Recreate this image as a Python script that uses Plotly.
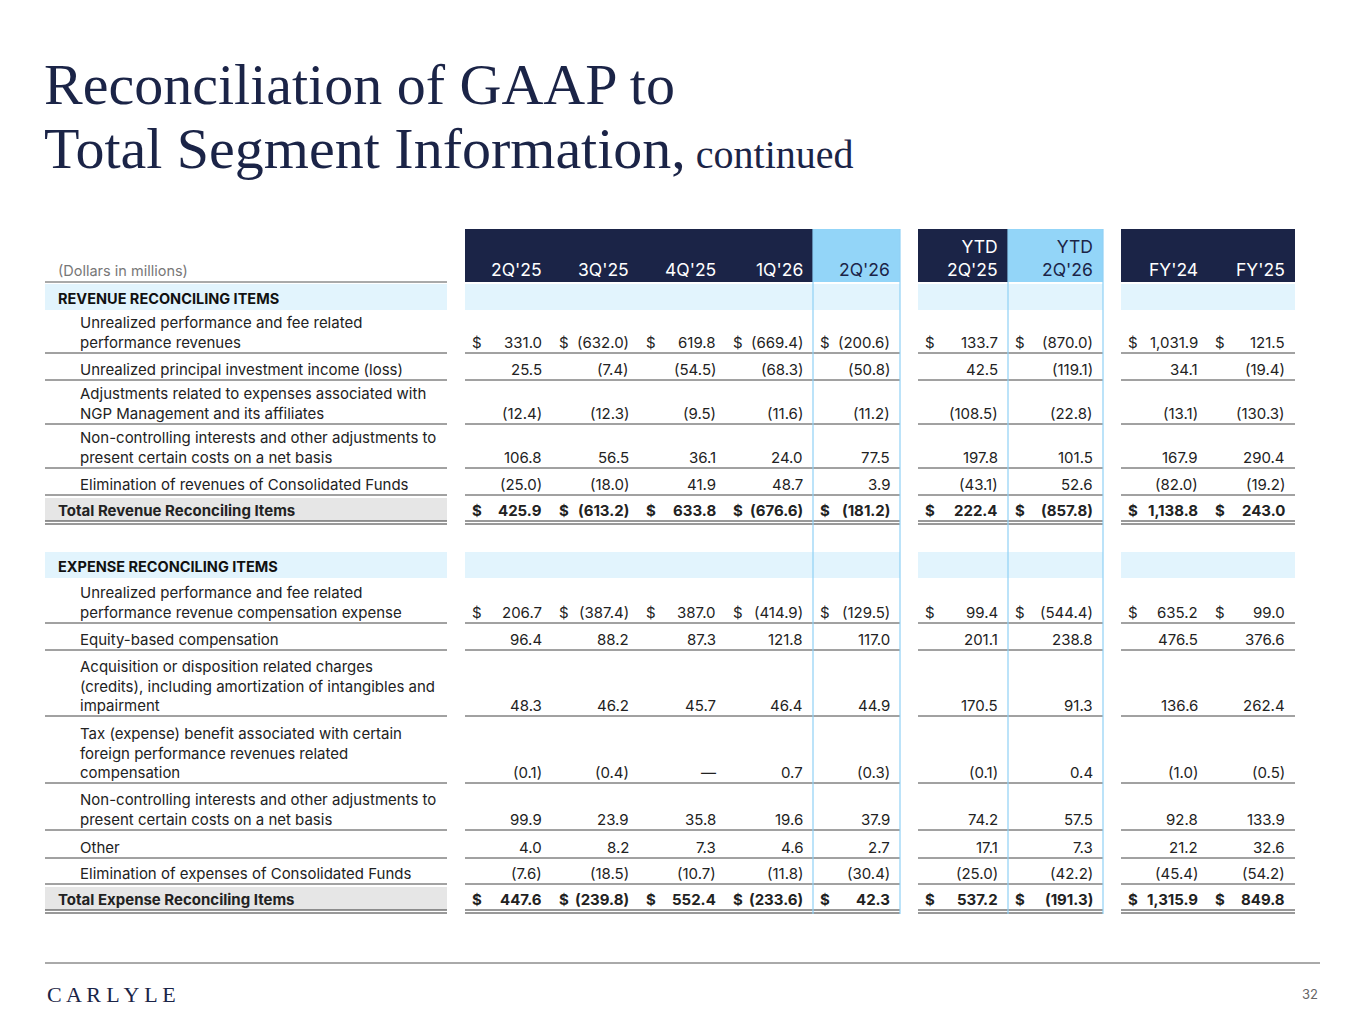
import plotly.graph_objects as go

NAVY = "#1b2447"
columns = ["2Q'25", "3Q'25", "4Q'25", "1Q'26", "2Q'26", "YTD<br>2Q'25", "YTD<br>2Q'26", "FY'24", "FY'25"]
col_left = [465, 552, 639, 726, 813, 918, 1008, 1121, 1208]
col_right = [552, 639, 726, 813, 900, 1008, 1103, 1208, 1295]
groups = [(465, 900), (918, 1103), (1121, 1295)]
highlight = [4, 6]

rev_labels = ["Unrealized performance and fee related<br>performance revenues",
              "Unrealized principal investment income (loss)",
              "Adjustments related to expenses associated with<br>NGP Management and its affiliates",
              "Non-controlling interests and other adjustments to<br>present certain costs on a net basis",
              "Elimination of revenues of Consolidated Funds"]
rev_values = [
    ["331.0", "(632.0)", "619.8", "(669.4)", "(200.6)", "133.7", "(870.0)", "1,031.9", "121.5"],
    ["25.5", "(7.4)", "(54.5)", "(68.3)", "(50.8)", "42.5", "(119.1)", "34.1", "(19.4)"],
    ["(12.4)", "(12.3)", "(9.5)", "(11.6)", "(11.2)", "(108.5)", "(22.8)", "(13.1)", "(130.3)"],
    ["106.8", "56.5", "36.1", "24.0", "77.5", "197.8", "101.5", "167.9", "290.4"],
    ["(25.0)", "(18.0)", "41.9", "48.7", "3.9", "(43.1)", "52.6", "(82.0)", "(19.2)"],
]
rev_total = ["425.9", "(613.2)", "633.8", "(676.6)", "(181.2)", "222.4", "(857.8)", "1,138.8", "243.0"]

exp_labels = ["Unrealized performance and fee related<br>performance revenue compensation expense",
              "Equity-based compensation",
              "Acquisition or disposition related charges<br>(credits), including amortization of intangibles and<br>impairment",
              "Tax (expense) benefit associated with certain<br>foreign performance revenues related<br>compensation",
              "Non-controlling interests and other adjustments to<br>present certain costs on a net basis",
              "Other",
              "Elimination of expenses of Consolidated Funds"]
exp_values = [
    ["206.7", "(387.4)", "387.0", "(414.9)", "(129.5)", "99.4", "(544.4)", "635.2", "99.0"],
    ["96.4", "88.2", "87.3", "121.8", "117.0", "201.1", "238.8", "476.5", "376.6"],
    ["48.3", "46.2", "45.7", "46.4", "44.9", "170.5", "91.3", "136.6", "262.4"],
    ["(0.1)", "(0.4)", "—", "0.7", "(0.3)", "(0.1)", "0.4", "(1.0)", "(0.5)"],
    ["99.9", "23.9", "35.8", "19.6", "37.9", "74.2", "57.5", "92.8", "133.9"],
    ["4.0", "8.2", "7.3", "4.6", "2.7", "17.1", "7.3", "21.2", "32.6"],
    ["(7.6)", "(18.5)", "(10.7)", "(11.8)", "(30.4)", "(25.0)", "(42.2)", "(45.4)", "(54.2)"],
]
exp_total = ["447.6", "(239.8)", "552.4", "(233.6)", "42.3", "537.2", "(191.3)", "1,315.9", "849.8"]

rev_rows = [(312, 353), (355, 380), (382, 424), (426, 468), (470, 495)]
rev_total_row = (498, 521)
exp_rows = [(581, 623), (625, 650), (652, 716), (718, 783), (785, 830), (832, 858), (860, 884)]
exp_total_row = (887, 910)

fig = go.Figure()
fig.add_trace(go.Scatter(x=[0], y=[0], mode="markers", marker=dict(opacity=0), showlegend=False, hoverinfo="skip"))
shapes, ann = [], []

def rect(x0, y0, x1, y1, color):
    shapes.append(dict(type="rect", xref="x", yref="y", x0=x0, x1=x1, y0=y0, y1=y1, fillcolor=color, line=dict(width=0), layer="below"))

def line(x0, y0, x1, y1, color="#444", w=1):
    shapes.append(dict(type="line", xref="x", yref="y", x0=x0, x1=x1, y0=y0, y1=y1, line=dict(color=color, width=w)))

def text(x, y, s, size=15, color="#222", anchor="left", valign="bottom", bold=False, font="Inter"):
    if bold:
        s = "<b>" + s + "</b>"
    ann.append(dict(xref="x", yref="y", x=x, y=y, text=s, showarrow=False, xanchor=anchor, yanchor=valign,
                    font=dict(family=font, size=size, color=color), align=anchor))

text(42, 50, "Reconciliation of GAAP to", size=58, color=NAVY, valign="top", font="Liberation Serif")
text(42, 114, "Total Segment Information,<span style='font-size:40px'> continued</span>", size=58, color=NAVY, valign="top", font="Liberation Serif")

for (g0, g1) in groups:
    rect(g0, 229, g1, 282, NAVY)
for i in highlight:
    rect(col_left[i], 229, col_right[i], 282, "#93d5f8")
for i, c in enumerate(columns):
    text(col_right[i] - 8, 282, c, size=17.5, color=NAVY if i in highlight else "white", anchor="right")
text(56, 281, "(Dollars in millions)", size=14.5, color="#777")
line(45, 282, 447, 282, "#555")

for y0, y1, s in [(284, 310, "REVENUE RECONCILING ITEMS"), (552, 578, "EXPENSE RECONCILING ITEMS")]:
    rect(45, y0, 447, y1, "#e2f4fd")
    for (g0, g1) in groups:
        rect(g0, y0, g1, y1, "#e2f4fd")
    text(56, (y0 + y1) / 2 + 1, s, size=14.5, color="#111", bold=True, valign="middle")

def body(rows, labels, values):
    for k, ((t, b), lab, vals) in enumerate(zip(rows, labels, values)):
        text(78, b + 1, lab, anchor="left")
        for i, v in enumerate(vals):
            text(col_right[i] - 8, b + 1, v, anchor="right")
            if k == 0:
                text(col_left[i] + 5, b + 1, "$", anchor="left")
        line(45, b, 447, b)
        for (g0, g1) in groups:
            line(g0, b, g1, b)

def total(row, label, vals):
    t, b = row
    rect(45, t, 447, b, "#e6e6e6")
    text(56, b + 1, label, bold=True)
    for i, v in enumerate(vals):
        text(col_right[i] - 8, b + 1, v, anchor="right", bold=True)
        text(col_left[i] + 5, b + 1, "$", anchor="left", bold=True)
    for (g0, g1) in [(45, 447)] + groups:
        line(g0, b, g1, b, "#333", 1)
        line(g0, b + 3, g1, b + 3, "#333", 1)

body(rev_rows, rev_labels, rev_values)
total(rev_total_row, "Total Revenue Reconciling Items", rev_total)
body(exp_rows, exp_labels, exp_values)
total(exp_total_row, "Total Expense Reconciling Items", exp_total)

for i in highlight:
    for x in (col_left[i], col_right[i]):
        line(x, 229, x, 914, "#8fd0f5", 1.2)

line(45, 963, 1320, 963, "#555")
text(45, 994, "C A R L Y L E", size=22, color=NAVY, valign="middle", font="Liberation Serif")
text(1320, 994, "32", size=13, color="#666", anchor="right", valign="middle")

fig.update_layout(width=1365, height=1024, margin=dict(l=0, r=0, t=0, b=0),
                  plot_bgcolor="white", paper_bgcolor="white", shapes=shapes, annotations=ann,
                  xaxis=dict(range=[8, 1373], visible=False, fixedrange=True),
                  yaxis=dict(range=[1032, 8], visible=False, fixedrange=True))
fig.write_html("out.html")
